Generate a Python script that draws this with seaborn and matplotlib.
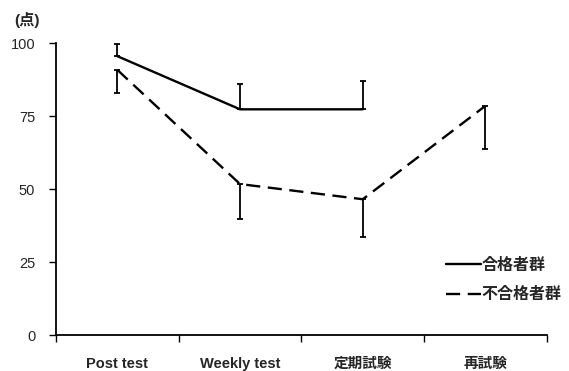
import matplotlib
matplotlib.use("Agg")
import matplotlib.pyplot as plt
import seaborn as sns
import pandas as pd
import numpy as np

# Test stages and mean scores (points) for each group
stages = ["Post test", "Weekly test", "定期試験", "再試験"]
pass_mean = [95.5, 77.3, 77.3]
pass_sd = [4.0, 8.7, 9.8]
fail_mean = [90.8, 51.7, 46.5, 78.5]
fail_sd = [8.0, 12.0, 12.8, 14.8]
group_names = ["合格者群", "不合格者群"]

sns.set_theme(style="white")
plt.rcParams["font.family"] = ["Liberation Sans", "Noto Sans CJK JP", "DejaVu Sans"]

rows = []
for i, v in enumerate(pass_mean):
    rows.append({"stage": i, "score": v, "group": group_names[0]})
for i, v in enumerate(fail_mean):
    rows.append({"stage": i, "score": v, "group": group_names[1]})
df = pd.DataFrame(rows)

fig = plt.figure(figsize=(5.69, 3.71), dpi=100)
ax = fig.add_axes([0.0984, 0.097, 0.8626, 0.787])

sns.lineplot(data=df, x="stage", y="score", style="group", hue="group",
             palette={group_names[0]: "black", group_names[1]: "black"},
             dashes={group_names[0]: "", group_names[1]: (6, 3.2)},
             linewidth=1.7, ax=ax, legend=True)

# Pass group: upper error bars; fail group: lower error bars
xp = np.arange(len(pass_mean))
ax.errorbar(xp, pass_mean, yerr=[np.zeros(len(pass_sd)), pass_sd],
            fmt="none", ecolor="black", elinewidth=1.3, capsize=2.5, capthick=1.3)
xf = np.arange(len(fail_mean))
ax.errorbar(xf, fail_mean, yerr=[fail_sd, np.zeros(len(fail_sd))],
            fmt="none", ecolor="black", elinewidth=1.3, capsize=2.5, capthick=1.3)

ax.set_xlim(-0.5, 3.5)
ax.set_ylim(0, 100)
ax.set_yticks([0, 25, 50, 75, 100])
ax.set_yticklabels(["0", "25", "50", "75", "100"], fontsize=10.5)
ax.set_xticks(range(len(stages)))
ax.set_xticklabels(stages, fontsize=10.5, fontweight="bold")
ax.set_xticks(np.arange(-0.5, 4.0, 1.0), minor=True)
ax.tick_params(axis="x", which="major", bottom=True, length=0, pad=16)
ax.tick_params(axis="x", which="minor", bottom=True, length=5, width=1,
               color="black", direction="out")
ax.tick_params(axis="y", which="major", left=True, length=5, width=1,
               color="black", direction="out", pad=10)
ax.set_xlabel("")
ax.set_ylabel("")

for s in ["top", "right"]:
    ax.spines[s].set_visible(False)
for s in ["left", "bottom"]:
    ax.spines[s].set_color("black")
    ax.spines[s].set_linewidth(1.3)

fig.text(14 / 569, 1 - 20 / 371, "(点)", fontsize=11, fontweight="bold", va="center", ha="left")

handles, labels = ax.get_legend_handles_labels()
leg = ax.legend(handles, labels, loc="lower left", bbox_to_anchor=(0.766, 0.063),
                frameon=False, handlelength=2.2, handletextpad=0.0,
                labelspacing=0.9, prop={"size": 11.5, "weight": "bold"})

fig.savefig("out.png", dpi=100)
